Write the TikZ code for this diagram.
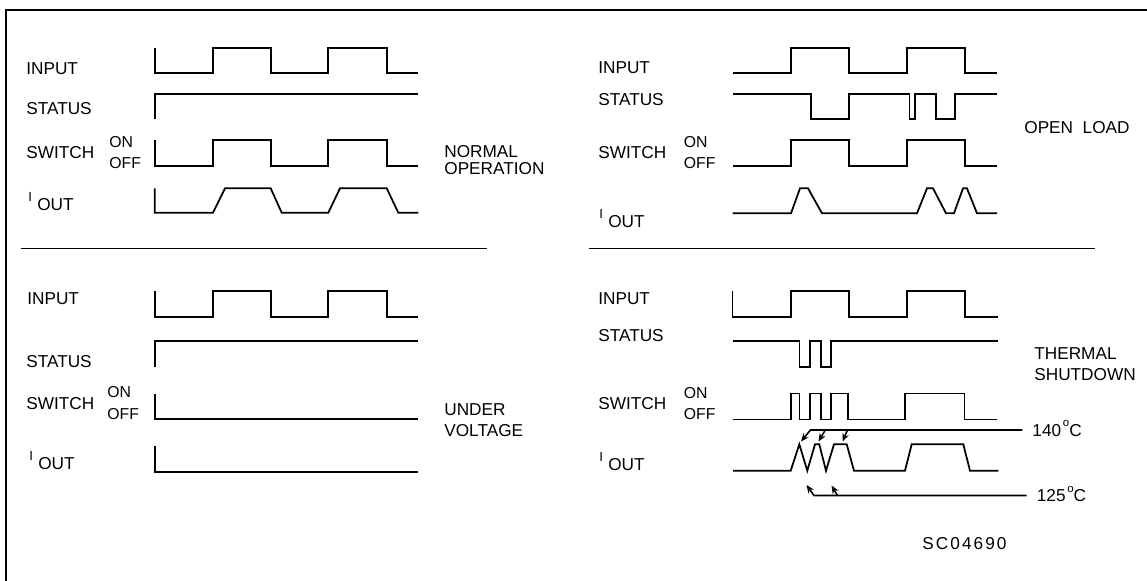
\documentclass[tikz,border=0pt]{standalone}
\usepackage{fontspec}
\setmainfont{Liberation Sans}
\newfontfamily\codefont[LetterSpace=12]{Liberation Sans}
\usetikzlibrary{arrows.meta}
\newcommand\sigfont{\fontsize{9.8}{11}\selectfont}
\newcommand\onofffont{\fontsize{9}{10}\selectfont}
\newcommand\ioutlabel{\raisebox{5pt}{\fontsize{7.5}{7.5}\selectfont I}\hspace{3pt}OUT}
\newcommand\degC{\hspace{1pt}\raisebox{5.5pt}{\fontsize{6.5}{6.5}\selectfont o}C}
\tikzset{
  wave/.style={line width=1pt,line join=miter},
  lowpart/.style={line width=1.5pt},
  frameline/.style={line width=1.4pt},
  rule/.style={line width=0.9pt},
  sig/.style={font=\sigfont,anchor=west,inner sep=0pt,text height=7.1pt,text depth=0pt},
  onoff/.style={font=\onofffont,anchor=west,inner sep=0pt,text height=6.5pt,text depth=0pt},
  tlabel/.style={sig,inner xsep=5.6pt},
  temparrow/.style={-{Stealth[length=4.6pt,width=3.8pt]},line width=0.9pt}
}
\begin{document}
\begin{tikzpicture}[x=0.02cm,y=-0.02cm]
\useasboundingbox (0,0) rectangle (1147,581);
\draw[frameline] (1147,10) -- (6,10) -- (6,581);
\draw[rule] (21,248.3) -- (487,248.3);
\draw[rule] (589,248.3) -- (1094.5,248.3);

\node[sig] (in1) at (26,67.8) {INPUT};
\node[sig] (st1) at (26,108.5) {STATUS};
\node[sig] (sw1) at (26,152) {SWITCH};
\node[onoff] (on1) at (109,141.3) {ON};
\node[onoff] (off1) at (109,162.5) {OFF};
\node[sig] (io1) at (28,204) {\ioutlabel};
\node[sig] (normal) at (444,151.3) {NORMAL};
\node[sig] (operation) at (444,168) {OPERATION};
\draw[wave] (154.7,48.3) |- (213,72.7) |- (270.7,48.3) |- (328.3,72.7) |- (386.7,48.3) |- (418.3,72.7);
\draw[wave] (154.7,119.3) |- (418.3,94);
\draw[wave] (154.7,140) |- (213,166) |- (270.7,140) |- (328.3,166) |- (386.7,140) |- (418.3,166);
\draw[wave] (154.7,188.3) -- (154.7,212.7) -- (213,212.7) -- (225,188.3) -- (270.7,188.3)
  -- (281.7,212.7) -- (328.3,212.7) -- (340,188.3) -- (386.7,188.3) -- (398.3,212.7) -- (418.3,212.7);

\node[sig] (in2) at (598,67.5) {INPUT};
\node[sig] (st2) at (598,98.8) {STATUS};
\node[sig] (sw2) at (598,152) {SWITCH};
\node[onoff] (on2) at (683.5,141.7) {ON};
\node[onoff] (off2) at (683.5,162.5) {OFF};
\node[sig] (io2) at (599,221) {\ioutlabel};
\node[sig] (openload) at (1024,127) {OPEN\ \ LOAD};
\draw[wave] (732.5,72.7) -| (791,48.3) -| (849,72.7) -| (907,48.3) -| (965,72.7) -- (997,72.7);
\draw[wave] (732.5,94) -| (811,119) -| (849,94) -| (909.5,119) -| (915,94) -| (936,119) -| (955,94) -- (997,94);
\draw[lowpart] (811,119) -- (849,119) (909.5,119) -- (915,119) (936,119) -- (955,119);
\draw[wave] (732.5,166) -| (791,140) -| (849,166) -| (907,140) -| (965,166) -- (997,166);
\draw[wave] (732.5,213.3) -- (791,213.3) -- (800,188.3) -- (808,188.3) -- (822,213.3) -- (917,213.3)
  -- (927,188.3) -- (933,188.3) -- (946,213.3) -- (954,213.3) -- (963,188.3) -- (967,188.3)
  -- (977,213.3) -- (997,213.3);

\node[sig] (in3) at (27,298.3) {INPUT};
\node[sig] (st3) at (26,360.8) {STATUS};
\node[sig] (sw3) at (26,403.3) {SWITCH};
\node[onoff] (on3) at (107,391.8) {ON};
\node[onoff] (off3) at (107,414) {OFF};
\node[sig] (io3) at (29,463.3) {\ioutlabel};
\node[sig] (under) at (444,409.5) {UNDER};
\node[sig] (voltage) at (444,430.5) {VOLTAGE};
\draw[wave] (154.7,291) |- (213,316.7) |- (270.7,291) |- (328.3,316.7) |- (386.7,291) |- (418.3,316.7);
\draw[wave] (154.7,366.7) |- (418.3,340.7);
\draw[wave] (154.7,394) |- (418.3,419.3);
\draw[wave] (154.7,446) |- (418.3,471.7);

\node[sig] (in4) at (598,298.3) {INPUT};
\node[sig] (st4) at (598,335.3) {STATUS};
\node[sig] (sw4) at (598,403.3) {SWITCH};
\node[onoff] (on4) at (683.5,392.5) {ON};
\node[onoff] (off4) at (683.5,414.2) {OFF};
\node[sig] (io4) at (599,464) {\ioutlabel};
\node[sig] (thermal) at (1034,353) {THERMAL};
\node[sig] (shutdown) at (1034,374) {SHUTDOWN};
\node[tlabel] (t140) at (1022.3,430) {140\degC};
\node[tlabel] (t125) at (1026.7,495.5) {125\degC};
\node[sig,font=\codefont\sigfont] (code) at (922,543.3) {SC04690};
\draw[wave] (732.5,291) |- (791,316.7) |- (849,291) |- (907,316.7) |- (965,291) |- (998,316.7);
\draw[wave] (732.5,340.7) -| (799.5,366.7) -| (810,340.7) -| (821,366.7) -| (831,340.7) -- (998,340.7);
\draw[wave] (732.5,419.5) -| (791,393.5) -| (799.5,419.5) -| (810,393.5) -| (821,419.5) -| (831,393.5)
  -| (848,419.5) -| (905,393.5) -| (964.5,419.5) -- (997,419.5);
\draw[wave] (733,470.7) -- (790.7,470.7) -- (799.3,444.3) -- (807.3,470.7) -- (815,444.3) -- (819.3,444.3)
  -- (826,470.7) -- (834,444.3) -- (846.7,444.3) -- (854,470.7) -- (905,470.7) -- (911.7,444.3)
  -- (963.3,444.3) -- (970,470.7) -- (998.3,470.7);
\draw[temparrow] (t140.west) -- (810.5,430) -- (801,441.5);
\draw[temparrow] (825.3,430) -- (818.5,441.5);
\draw[temparrow] (847.5,430) -- (842.5,441.5);
\draw[temparrow] (t125.west) -- (814,495.5) -- (806.5,485);
\draw[temparrow] (837.5,495.5) -- (831.5,485.5);
\end{tikzpicture}
\end{document}
